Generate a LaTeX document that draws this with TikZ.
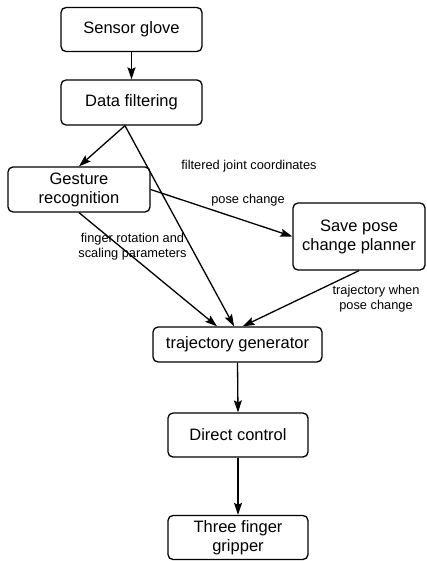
\documentclass[tikz,border=0pt]{standalone}
\usepackage{fontspec}
\setmainfont{Liberation Sans}
\usetikzlibrary{arrows.meta,calc}
\tikzset{
  blk/.style={draw, rounded corners=5pt, line width=1.3pt, inner sep=0pt,
    align=center, font=\fontsize{16.5}{19}\selectfont},
  lbl/.style={inner sep=0pt, align=center, font=\fontsize{12.8}{15}\selectfont},
  flow/.style={line width=1.3pt, -{Stealth[length=12pt,width=8pt,inset=2pt]}}
}
\begin{document}
\begin{tikzpicture}[x=1pt,y=-1pt]
\useasboundingbox (0,0) rectangle (426,561);

% processing blocks
\node[blk, minimum width=141pt, minimum height=44pt] (sg) at (131.5,29.5) {Sensor glove};
\node[blk, minimum width=141pt, minimum height=45pt] (df) at (131.5,102.5) {Data filtering};
\node[blk, minimum width=142pt, minimum height=45pt] (gr) at (79,189.5) {Gesture\\recognition};
\node[blk, minimum width=132pt, minimum height=67pt] (sp) at (359,236.5) {Save pose\\change planner};
\node[blk, minimum width=169pt, minimum height=35pt] (tg) at (237.5,344.5) {trajectory generator};
\node[blk, minimum width=140pt, minimum height=44pt] (dc) at (238,435) {Direct control};
\node[blk, minimum width=140pt, minimum height=44pt] (tf) at (238,537.5) {Three finger\\gripper};

% connector labels
\node[lbl] (lfj) at (249,166) {filtered joint coordinates};
\node[lbl] (lpc) at (248,200) {pose change};
\node[lbl] (lfr) at (132.5,247) {finger rotation and\\scaling parameters};
\node[lbl] (ltw) at (376,299) {trajectory when\\pose change};

% data flow
\coordinate (dfout) at ($(df.south west)!0.454!(df.south east)$);
\draw[flow] (sg.south) -- (df.north);
\draw[flow] (dfout) -- (gr.north);
\draw[flow] (dfout) -- ($(tg.north west)!0.48!(tg.north east)$);
\draw[flow] (gr.east) -- (sp.west);
\draw[flow] (gr.south) -- ($(tg.north west)!0.38!(tg.north east)$);
\draw[flow] (sp.south) -- ($(tg.north west)!0.53!(tg.north east)$);
\draw[flow] (tg.south) -- (dc.north);
\draw[flow] (dc.south) -- (tf.north);
\end{tikzpicture}
\end{document}
